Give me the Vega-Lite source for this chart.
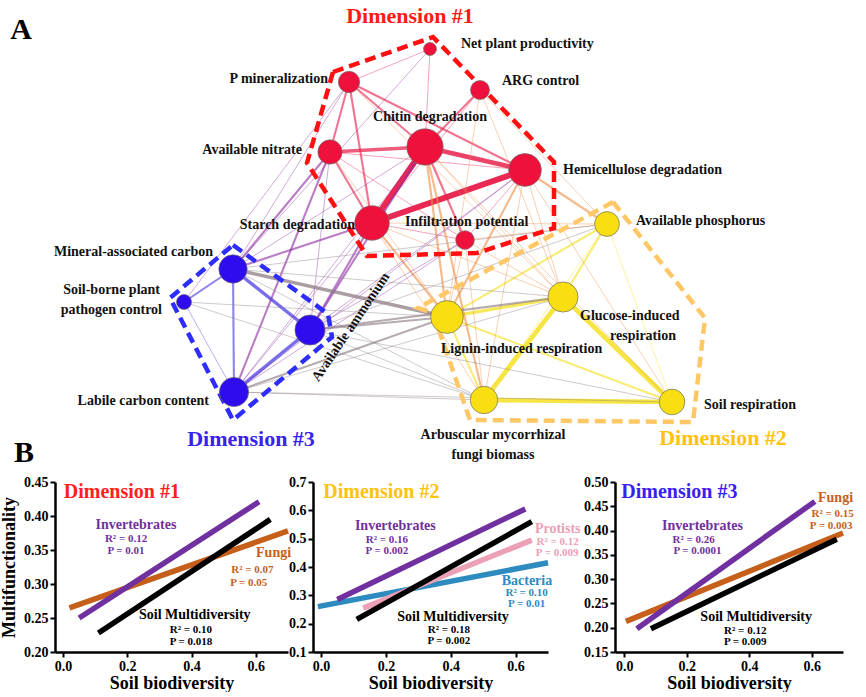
{
"$schema": "https://vega.github.io/schema/vega-lite/v6.json",
"padding": 0,
"background": "white",
"spacing": 5,
"align": "none",
"config": {
 "view": {"stroke": null},
 "font": "Liberation Serif",
 "axis": {"grid": false, "domainColor": "#000", "domainWidth": 2.5, "tickColor": "#000", "tickWidth": 2, "tickSize": 5, "labelFont": "Liberation Serif", "labelFontSize": 14, "labelFontWeight": "bold", "labelColor": "#000", "titleFont": "Liberation Serif", "titleFontSize": 18, "titleFontWeight": "bold", "titleColor": "#000", "labelPadding": 2, "labelFlush": false, "labelOverlap": false},
 "axisX": {"titlePadding": 1},
 "axisY": {"titlePadding": 5}
},
"datasets": {
 "nodes": [
  {"id":"NPP","dim":"1","x":430,"y":49,"imp":7.3},
  {"id":"PM","dim":"1","x":349,"y":82,"imp":12},
  {"id":"ARG","dim":"1","x":480,"y":90,"imp":10.7},
  {"id":"AN","dim":"1","x":330,"y":152,"imp":13.7},
  {"id":"CH","dim":"1","x":425,"y":147,"imp":20.5},
  {"id":"HE","dim":"1","x":525,"y":170,"imp":18.5},
  {"id":"ST","dim":"1","x":372,"y":223,"imp":19.5},
  {"id":"IP","dim":"1","x":465,"y":240,"imp":10.5},
  {"id":"MAC","dim":"3","x":233,"y":269,"imp":16},
  {"id":"SBP","dim":"3","x":184,"y":302,"imp":8.5},
  {"id":"AA","dim":"3","x":310,"y":330,"imp":17},
  {"id":"LCC","dim":"3","x":234,"y":392,"imp":16.5},
  {"id":"AP","dim":"2","x":607,"y":224,"imp":14},
  {"id":"GIR","dim":"2","x":563,"y":297,"imp":17},
  {"id":"LIR","dim":"2","x":447,"y":317,"imp":18.5},
  {"id":"AMF","dim":"2","x":484,"y":400,"imp":15.5},
  {"id":"SR","dim":"2","x":672,"y":402,"imp":14.5}
 ],
 "edges": [
  {"s":"NPP","t":"PM","w":1,"kind":"rr"},
  {"s":"NPP","t":"CH","w":1,"kind":"rr"},
  {"s":"PM","t":"CH","w":2,"kind":"rr"},
  {"s":"PM","t":"AN","w":2,"kind":"rr"},
  {"s":"PM","t":"ST","w":2,"kind":"rr"},
  {"s":"PM","t":"HE","w":2,"kind":"rr"},
  {"s":"ARG","t":"CH","w":2,"kind":"rr"},
  {"s":"ARG","t":"ST","w":1,"kind":"rr"},
  {"s":"AN","t":"CH","w":3,"kind":"rr"},
  {"s":"AN","t":"ST","w":2,"kind":"rr"},
  {"s":"AN","t":"HE","w":1,"kind":"rr"},
  {"s":"CH","t":"HE","w":4,"kind":"rr"},
  {"s":"CH","t":"ST","w":5,"kind":"rr"},
  {"s":"HE","t":"ST","w":5,"kind":"rr"},
  {"s":"CH","t":"IP","w":2,"kind":"rr"},
  {"s":"ST","t":"IP","w":1,"kind":"rr"},
  {"s":"HE","t":"IP","w":1,"kind":"rr"},
  {"s":"AN","t":"IP","w":1,"kind":"rr"},
  {"s":"MAC","t":"SBP","w":2,"kind":"bb"},
  {"s":"MAC","t":"LCC","w":2,"kind":"bb"},
  {"s":"MAC","t":"AA","w":3,"kind":"bb"},
  {"s":"SBP","t":"LCC","w":1,"kind":"bb"},
  {"s":"LCC","t":"AA","w":3,"kind":"bb"},
  {"s":"AP","t":"GIR","w":2,"kind":"yy"},
  {"s":"AP","t":"LIR","w":2,"kind":"yy"},
  {"s":"AP","t":"AMF","w":1,"kind":"yy"},
  {"s":"AP","t":"SR","w":1,"kind":"yy"},
  {"s":"GIR","t":"LIR","w":3,"kind":"yy"},
  {"s":"GIR","t":"AMF","w":4,"kind":"yy"},
  {"s":"GIR","t":"SR","w":4,"kind":"yy"},
  {"s":"LIR","t":"AMF","w":2,"kind":"yy"},
  {"s":"LIR","t":"SR","w":2,"kind":"yy"},
  {"s":"AMF","t":"SR","w":4,"kind":"yy"},
  {"s":"CH","t":"LIR","w":2,"kind":"ry"},
  {"s":"CH","t":"GIR","w":1,"kind":"ry"},
  {"s":"CH","t":"AMF","w":2,"kind":"ry"},
  {"s":"HE","t":"LIR","w":2,"kind":"ry"},
  {"s":"HE","t":"GIR","w":1,"kind":"ry"},
  {"s":"HE","t":"AP","w":2,"kind":"ry"},
  {"s":"HE","t":"SR","w":1,"kind":"ry"},
  {"s":"ST","t":"LIR","w":2,"kind":"ry"},
  {"s":"ST","t":"AMF","w":1,"kind":"ry"},
  {"s":"ST","t":"GIR","w":1,"kind":"ry"},
  {"s":"ARG","t":"LIR","w":1,"kind":"ry"},
  {"s":"ARG","t":"GIR","w":1,"kind":"ry"},
  {"s":"ARG","t":"AP","w":1,"kind":"ry"},
  {"s":"IP","t":"LIR","w":1,"kind":"ry"},
  {"s":"IP","t":"GIR","w":1,"kind":"ry"},
  {"s":"IP","t":"AP","w":1,"kind":"ry"},
  {"s":"AN","t":"LIR","w":1,"kind":"ry"},
  {"s":"PM","t":"GIR","w":1,"kind":"ry"},
  {"s":"ST","t":"AP","w":1,"kind":"ry"},
  {"s":"CH","t":"SR","w":1,"kind":"ry"},
  {"s":"HE","t":"AMF","w":1,"kind":"ry"},
  {"s":"IP","t":"AMF","w":1,"kind":"ry"},
  {"s":"AN","t":"MAC","w":2,"kind":"rb"},
  {"s":"AN","t":"AA","w":1,"kind":"rb"},
  {"s":"AN","t":"LCC","w":2,"kind":"rb"},
  {"s":"ST","t":"MAC","w":2,"kind":"rb"},
  {"s":"ST","t":"AA","w":2,"kind":"rb"},
  {"s":"ST","t":"LCC","w":1,"kind":"rb"},
  {"s":"CH","t":"AA","w":2,"kind":"rb"},
  {"s":"CH","t":"LCC","w":1,"kind":"rb"},
  {"s":"HE","t":"LCC","w":1,"kind":"rb"},
  {"s":"HE","t":"AA","w":1,"kind":"rb"},
  {"s":"PM","t":"MAC","w":1,"kind":"rb"},
  {"s":"PM","t":"SBP","w":1,"kind":"rb"},
  {"s":"IP","t":"LCC","w":1,"kind":"rb"},
  {"s":"CH","t":"MAC","w":1,"kind":"rb"},
  {"s":"NPP","t":"MAC","w":1,"kind":"rb"},
  {"s":"IP","t":"AA","w":1,"kind":"rb"},
  {"s":"MAC","t":"LIR","w":3,"kind":"by"},
  {"s":"MAC","t":"GIR","w":1,"kind":"by"},
  {"s":"MAC","t":"AMF","w":1,"kind":"by"},
  {"s":"SBP","t":"LIR","w":1,"kind":"by"},
  {"s":"AA","t":"LIR","w":2,"kind":"by"},
  {"s":"AA","t":"GIR","w":2,"kind":"by"},
  {"s":"AA","t":"AMF","w":1,"kind":"by"},
  {"s":"LCC","t":"LIR","w":2,"kind":"by"},
  {"s":"LCC","t":"GIR","w":1,"kind":"by"},
  {"s":"LCC","t":"AMF","w":1,"kind":"by"},
  {"s":"LCC","t":"SR","w":1,"kind":"by"},
  {"s":"AA","t":"SR","w":1,"kind":"by"},
  {"s":"AA","t":"AP","w":1,"kind":"by"},
  {"s":"MAC","t":"AP","w":1,"kind":"by"},
  {"s":"SBP","t":"AMF","w":1,"kind":"by"}
 ],
 "hull": [
  {"dim":"1","i":0,"x":333,"y":72},{"dim":"1","i":1,"x":433,"y":37},{"dim":"1","i":2,"x":554,"y":162},{"dim":"1","i":3,"x":554,"y":228},{"dim":"1","i":4,"x":477,"y":253},{"dim":"1","i":5,"x":367,"y":256},{"dim":"1","i":6,"x":307,"y":163},{"dim":"1","i":7,"x":333,"y":72},
  {"dim":"3","i":0,"x":233,"y":245},{"dim":"3","i":1,"x":328,"y":314},{"dim":"3","i":2,"x":332,"y":337},{"dim":"3","i":3,"x":233,"y":420},{"dim":"3","i":4,"x":170,"y":298},{"dim":"3","i":5,"x":233,"y":245},
  {"dim":"2","i":0,"x":613,"y":202},{"dim":"2","i":1,"x":705,"y":318},{"dim":"2","i":2,"x":693,"y":422},{"dim":"2","i":3,"x":470,"y":420},{"dim":"2","i":4,"x":433,"y":313},{"dim":"2","i":5,"x":418,"y":308},{"dim":"2","i":6,"x":613,"y":202}
 ],
 "labelsLeft": [
  {"text":"Net plant productivity","x":461,"y":44},
  {"text":"ARG control","x":502,"y":81},
  {"text":"Hemicellulose  degradation","x":563,"y":170},
  {"text":"Infiltration potential","x":405,"y":222},
  {"text":"Available phosphorus","x":636,"y":221},
  {"text":"Glucose-induced","x":580,"y":316},
  {"text":"Lignin-induced respiration","x":441,"y":349},
  {"text":"Soil respiration","x":704,"y":405}
 ],
 "labelsRight": [
  {"text":"P mineralization","x":328,"y":79},
  {"text":"Available nitrate","x":302,"y":150},
  {"text":"Starch degradation","x":355,"y":225},
  {"text":"Mineral-associated carbon","x":213,"y":252},
  {"text":"Soil-borne plant","x":160,"y":290},
  {"text":"pathogen control","x":162,"y":310},
  {"text":"Labile carbon content","x":209,"y":401}
 ],
 "labelsCenter": [
  {"text":"Chitin degradation","x":430,"y":117},
  {"text":"respiration","x":643,"y":336},
  {"text":"Arbuscular mycorrhizal","x":493,"y":435},
  {"text":"fungi biomass","x":493,"y":455}
 ],
 "labelsRot": [
  {"text":"Available ammonium","x":351,"y":327}
 ],
 "dims": [
  {"text":"Dimension #1","dim":"1","x":410,"y":16},
  {"text":"Dimension #3","dim":"3","x":251,"y":439},
  {"text":"Dimension #2","dim":"2","x":723,"y":438}
 ],
 "letters": [
  {"text":"A","x":21,"y":30},
  {"text":"B","x":24,"y":453}
 ],
 "lines1": [
  {"group":"Fungi","x":0.02,"y":0.265},{"group":"Fungi","x":0.70,"y":0.378},
  {"group":"Invertebrates","x":0.05,"y":0.25},{"group":"Invertebrates","x":0.61,"y":0.421},
  {"group":"Soil Multidiversity","x":0.11,"y":0.228},{"group":"Soil Multidiversity","x":0.645,"y":0.395}
 ],
 "lines2": [
  {"group":"Bacteria","x":-0.01,"y":0.26},{"group":"Bacteria","x":0.70,"y":0.415},
  {"group":"Protists","x":0.13,"y":0.255},{"group":"Protists","x":0.65,"y":0.495},
  {"group":"Invertebrates","x":0.05,"y":0.285},{"group":"Invertebrates","x":0.63,"y":0.605},
  {"group":"Soil Multidiversity","x":0.11,"y":0.215},{"group":"Soil Multidiversity","x":0.65,"y":0.56}
 ],
 "lines3": [
  {"group":"Fungi","x":0.005,"y":0.213},{"group":"Fungi","x":0.70,"y":0.395},
  {"group":"Invertebrates","x":0.04,"y":0.198},{"group":"Invertebrates","x":0.61,"y":0.46},
  {"group":"Soil Multidiversity","x":0.085,"y":0.198},{"group":"Soil Multidiversity","x":0.68,"y":0.382}
 ],
 "ann1": [
  {"kind":"title","group":"Dimension #1","text":"Dimension #1","x":0.183,"y":0.435},
  {"kind":"name","group":"Invertebrates","text":"Invertebrates","x":0.227,"y":0.387},
  {"kind":"stat","group":"Invertebrates","text":"R² = 0.12","x":0.196,"y":0.366},
  {"kind":"stat","group":"Invertebrates","text":"P = 0.01","x":0.196,"y":0.349},
  {"kind":"name","group":"Fungi","text":"Fungi","x":0.655,"y":0.346},
  {"kind":"stat","group":"Fungi","text":"R² = 0.07","x":0.589,"y":0.32},
  {"kind":"stat","group":"Fungi","text":"P = 0.05","x":0.578,"y":0.301},
  {"kind":"name","group":"Soil Multidiversity","text":"Soil Multidiversity","x":0.41,"y":0.254},
  {"kind":"stat","group":"Soil Multidiversity","text":"R² = 0.10","x":0.398,"y":0.232},
  {"kind":"stat","group":"Soil Multidiversity","text":"P = 0.018","x":0.398,"y":0.215}
 ],
 "ann2": [
  {"kind":"title","group":"Dimension #2","text":"Dimension #2","x":0.186,"y":0.663},
  {"kind":"name","group":"Invertebrates","text":"Invertebrates","x":0.229,"y":0.545},
  {"kind":"stat","group":"Invertebrates","text":"R² = 0.16","x":0.203,"y":0.496},
  {"kind":"stat","group":"Invertebrates","text":"P = 0.002","x":0.203,"y":0.455},
  {"kind":"name","group":"Protists","text":"Protists","x":0.73,"y":0.533},
  {"kind":"stat","group":"Protists","text":"R² = 0.12","x":0.73,"y":0.49},
  {"kind":"stat","group":"Protists","text":"P = 0.009","x":0.728,"y":0.45},
  {"kind":"name","group":"Bacteria","text":"Bacteria","x":0.635,"y":0.35},
  {"kind":"stat","group":"Bacteria","text":"R² = 0.10","x":0.634,"y":0.307},
  {"kind":"stat","group":"Bacteria","text":"P = 0.01","x":0.634,"y":0.269},
  {"kind":"name","group":"Soil Multidiversity","text":"Soil Multidiversity","x":0.407,"y":0.224},
  {"kind":"stat","group":"Soil Multidiversity","text":"R² = 0.18","x":0.394,"y":0.178},
  {"kind":"stat","group":"Soil Multidiversity","text":"P = 0.002","x":0.394,"y":0.138}
 ],
 "ann3": [
  {"kind":"title","group":"Dimension #3","text":"Dimension #3","x":0.176,"y":0.479},
  {"kind":"name","group":"Invertebrates","text":"Invertebrates","x":0.25,"y":0.409},
  {"kind":"stat","group":"Invertebrates","text":"R² = 0.26","x":0.222,"y":0.381},
  {"kind":"stat","group":"Invertebrates","text":"P = 0.0001","x":0.234,"y":0.357},
  {"kind":"name","group":"Fungi","text":"Fungi","x":0.676,"y":0.467},
  {"kind":"stat","group":"Fungi","text":"R² = 0.15","x":0.667,"y":0.434},
  {"kind":"stat","group":"Fungi","text":"P = 0.003","x":0.662,"y":0.409},
  {"kind":"name","group":"Soil Multidiversity","text":"Soil Multidiversity","x":0.422,"y":0.223},
  {"kind":"stat","group":"Soil Multidiversity","text":"R² = 0.12","x":0.387,"y":0.194},
  {"kind":"stat","group":"Soil Multidiversity","text":"P = 0.009","x":0.387,"y":0.17}
 ]
},
"vconcat": [
 {
  "width": 811, "height": 470,
  "encoding": {
   "x": {"field":"x","type":"quantitative","scale":{"domain":[55,866],"nice":false,"zero":false},"axis":null},
   "y": {"field":"y","type":"quantitative","scale":{"domain":[0,470],"nice":false,"zero":false,"reverse":true},"axis":null}
  },
  "layer": [
   {
    "data": {"name":"edges"},
    "transform": [
     {"lookup":"s","from":{"data":{"name":"nodes"},"key":"id","fields":["x","y"]},"as":["sx","sy"]},
     {"lookup":"t","from":{"data":{"name":"nodes"},"key":"id","fields":["x","y"]},"as":["tx","ty"]}
    ],
    "mark": {"type":"rule"},
    "encoding": {
     "x": {"field":"sx","type":"quantitative"},
     "y": {"field":"sy","type":"quantitative"},
     "x2": {"field":"tx"},
     "y2": {"field":"ty"},
     "color": {"field":"kind","type":"nominal","scale":{"domain":["rr","ry","rb","bb","by","yy"],"range":["#E81E4A","#EE8C42","#8C2AA2","#4636E0","#8A7880","#F4E01E"]},"legend":null},
     "strokeWidth": {"field":"w","type":"quantitative","scale":{"domain":[1,5],"range":[0.8,6]},"legend":null},
     "opacity": {"field":"w","type":"quantitative","scale":{"domain":[1,5],"range":[0.5,0.95]},"legend":null}
    }
   },
   {
    "data": {"name":"hull"},
    "mark": {"type":"line","strokeDash":[11,6],"strokeWidth":4.5},
    "encoding": {
     "color": {"field":"dim","type":"nominal","scale":{"domain":["1","2","3"],"range":["#FF0F0F","#FFC766","#2D2DFF"]},"legend":null},
     "detail": {"field":"dim"},
     "order": {"field":"i","type":"quantitative"}
    }
   },
   {
    "data": {"name":"nodes"},
    "mark": {"type":"point","filled":true,"opacity":1,"stroke":"#6b6b6b","strokeWidth":0.7},
    "encoding": {
     "color": {"field":"dim","type":"nominal","scale":{"domain":["1","2","3"],"range":["#F0103C","#F9DE12","#2D0CF0"]},"legend":null},
     "size": {"field":"imp","type":"quantitative","scale":{"type":"pow","exponent":2,"domain":[0,21],"range":[0,1385]},"legend":null}
    }
   },
   {
    "data": {"name":"labelsLeft"},
    "mark": {"type":"text","align":"left","baseline":"middle","fontSize":14,"fontWeight":"bold","color":"#111"},
    "encoding": {"text":{"field":"text"}}
   },
   {
    "data": {"name":"labelsRight"},
    "mark": {"type":"text","align":"right","baseline":"middle","fontSize":14,"fontWeight":"bold","color":"#111"},
    "encoding": {"text":{"field":"text"}}
   },
   {
    "data": {"name":"labelsCenter"},
    "mark": {"type":"text","align":"center","baseline":"middle","fontSize":14,"fontWeight":"bold","color":"#111"},
    "encoding": {"text":{"field":"text"}}
   },
   {
    "data": {"name":"labelsRot"},
    "mark": {"type":"text","align":"center","baseline":"middle","fontSize":14,"fontWeight":"bold","color":"#111","angle":304},
    "encoding": {"text":{"field":"text"}}
   },
   {
    "data": {"name":"dims"},
    "mark": {"type":"text","align":"center","baseline":"middle","fontSize":22,"fontWeight":"bold"},
    "encoding": {
     "text":{"field":"text"},
     "color": {"field":"dim","type":"nominal","scale":{"domain":["1","2","3"],"range":["#FF1A1A","#FFC20E","#3A22EE"]},"legend":null}
    }
   },
   {
    "data": {"name":"letters"},
    "mark": {"type":"text","align":"center","baseline":"middle","fontSize":30,"fontWeight":"bold","color":"#000"},
    "encoding": {"text":{"field":"text"}}
   }
  ],
  "resolve": {"scale": {"color":"independent","size":"independent","strokeWidth":"independent","opacity":"independent"}}
 },
 {
  "spacing": 2,
  "align": "none",
  "hconcat": [
   {
    "spacing": -11,
    "align": "none",
    "hconcat": [
     {
      "width": 233, "height": 170,
      "encoding": {
       "x": {"field":"x","type":"quantitative","scale":{"domain":[-0.025,0.7],"nice":false,"zero":false},"axis":{"values":[0,0.2,0.4,0.6],"format":".1f","title":"Soil biodiversity"}},
       "y": {"field":"y","type":"quantitative","scale":{"domain":[0.2,0.45],"nice":false,"zero":false},"axis":{"values":[0.2,0.25,0.3,0.35,0.4,0.45],"format":".2f","title":"Multifunctionality"}},
       "color": {"field":"group","type":"nominal","scale":{"domain":["Invertebrates","Fungi","Soil Multidiversity","Protists","Bacteria","Dimension #1","Dimension #2","Dimension #3"],"range":["#7030A0","#C65F1A","#000000","#EBA0B5","#2E8BC0","#FF1F1F","#FFC20E","#3A1FEF"]},"legend":null}
      },
      "layer": [
       {"data":{"name":"lines1"},"mark":{"type":"line","strokeWidth":5.5},"encoding":{}},
       {"data":{"name":"ann1"},"transform":[{"filter":"datum.kind == 'title'"}],"mark":{"type":"text","fontSize":20,"fontWeight":"bold"},"encoding":{"text":{"field":"text"}}},
       {"data":{"name":"ann1"},"transform":[{"filter":"datum.kind == 'name'"}],"mark":{"type":"text","fontSize":14,"fontWeight":"bold"},"encoding":{"text":{"field":"text"}}},
       {"data":{"name":"ann1"},"transform":[{"filter":"datum.kind == 'stat'"}],"mark":{"type":"text","fontSize":11,"fontWeight":"bold"},"encoding":{"text":{"field":"text"}}}
      ]
     },
     {
      "width": 235, "height": 170,
      "encoding": {
       "x": {"field":"x","type":"quantitative","scale":{"domain":[-0.025,0.7],"nice":false,"zero":false},"axis":{"values":[0,0.2,0.4,0.6],"format":".1f","title":"Soil biodiversity"}},
       "y": {"field":"y","type":"quantitative","scale":{"domain":[0.1,0.7],"nice":false,"zero":false},"axis":{"values":[0.1,0.2,0.3,0.4,0.5,0.6,0.7],"format":".1f","title":null}},
       "color": {"field":"group","type":"nominal","scale":{"domain":["Invertebrates","Fungi","Soil Multidiversity","Protists","Bacteria","Dimension #1","Dimension #2","Dimension #3"],"range":["#7030A0","#C65F1A","#000000","#EBA0B5","#2E8BC0","#FF1F1F","#FFC20E","#3A1FEF"]},"legend":null}
      },
      "layer": [
       {"data":{"name":"lines2"},"mark":{"type":"line","strokeWidth":5.5},"encoding":{}},
       {"data":{"name":"ann2"},"transform":[{"filter":"datum.kind == 'title'"}],"mark":{"type":"text","fontSize":20,"fontWeight":"bold"},"encoding":{"text":{"field":"text"}}},
       {"data":{"name":"ann2"},"transform":[{"filter":"datum.kind == 'name'"}],"mark":{"type":"text","fontSize":14,"fontWeight":"bold"},"encoding":{"text":{"field":"text"}}},
       {"data":{"name":"ann2"},"transform":[{"filter":"datum.kind == 'stat'"}],"mark":{"type":"text","fontSize":11,"fontWeight":"bold"},"encoding":{"text":{"field":"text"}}}
      ]
     }
    ]
   },
   {
    "width": 228, "height": 170,
    "encoding": {
     "x": {"field":"x","type":"quantitative","scale":{"domain":[-0.03,0.7],"nice":false,"zero":false},"axis":{"values":[0,0.2,0.4,0.6],"format":".1f","title":"Soil biodiversity"}},
     "y": {"field":"y","type":"quantitative","scale":{"domain":[0.15,0.5],"nice":false,"zero":false},"axis":{"values":[0.15,0.2,0.25,0.3,0.35,0.4,0.45,0.5],"format":".2f","title":null}},
     "color": {"field":"group","type":"nominal","scale":{"domain":["Invertebrates","Fungi","Soil Multidiversity","Protists","Bacteria","Dimension #1","Dimension #2","Dimension #3"],"range":["#7030A0","#C65F1A","#000000","#EBA0B5","#2E8BC0","#FF1F1F","#FFC20E","#3A1FEF"]},"legend":null}
    },
    "layer": [
     {"data":{"name":"lines3"},"mark":{"type":"line","strokeWidth":5.5},"encoding":{}},
     {"data":{"name":"ann3"},"transform":[{"filter":"datum.kind == 'title'"}],"mark":{"type":"text","fontSize":20,"fontWeight":"bold"},"encoding":{"text":{"field":"text"}}},
     {"data":{"name":"ann3"},"transform":[{"filter":"datum.kind == 'name'"}],"mark":{"type":"text","fontSize":14,"fontWeight":"bold"},"encoding":{"text":{"field":"text"}}},
     {"data":{"name":"ann3"},"transform":[{"filter":"datum.kind == 'stat'"}],"mark":{"type":"text","fontSize":11,"fontWeight":"bold"},"encoding":{"text":{"field":"text"}}}
    ]
   }
  ]
 }
]
}
